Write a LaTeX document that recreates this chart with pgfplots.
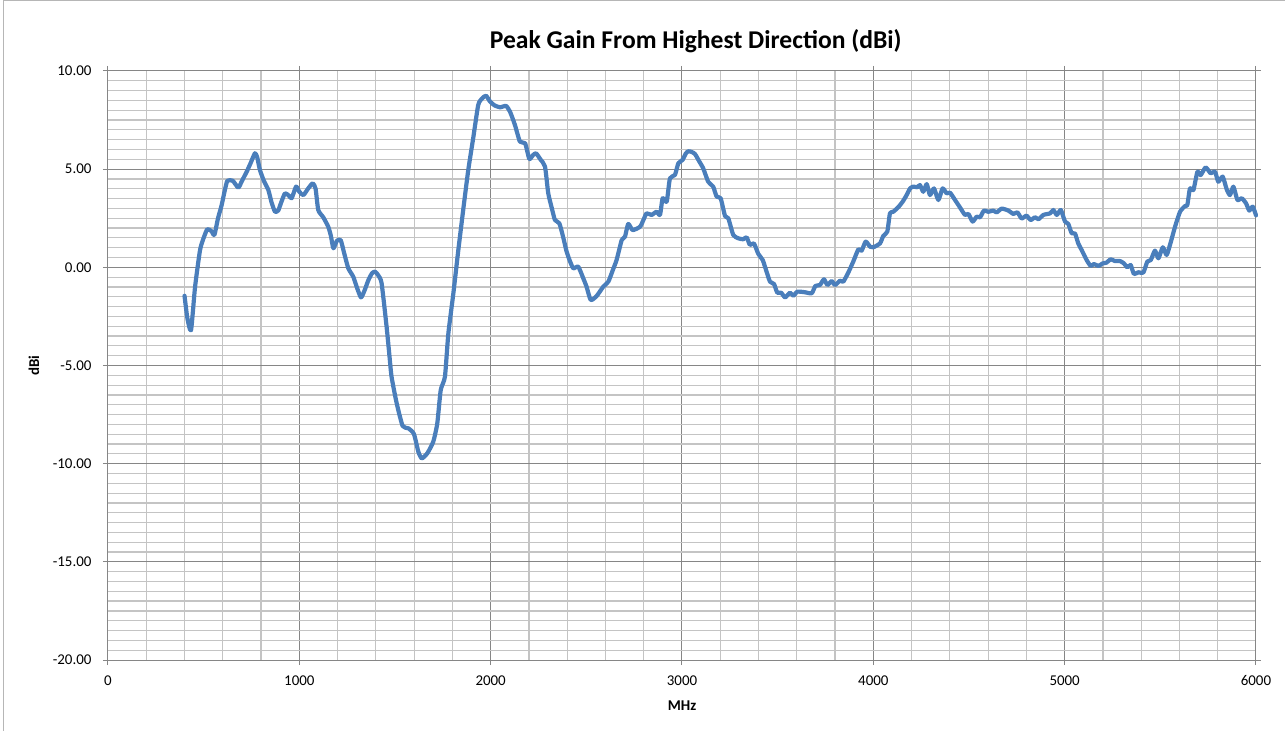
\documentclass[border=0pt]{standalone}
\usepackage{pgfplots}
\pgfplotsset{compat=1.18}
\usepackage{fontspec}
\setmainfont{Carlito}
\definecolor{line}{RGB}{74,126,187}
\definecolor{minorg}{RGB}{196,196,196}
\definecolor{majorg}{RGB}{134,134,134}
\begin{document}
\begin{tikzpicture}
\begin{axis}[
  width=1148bp, height=589bp, scale only axis,
  xmin=0, xmax=6000, ymin=-20, ymax=10,
  xtick={0,1000,...,6000}, minor x tick num=4,
  ytick={-20,-15,...,10}, minor y tick num=9,
  grid=both,
  major grid style={draw=majorg, line width=1bp},
  minor grid style={draw=minorg, line width=1.2bp},
  axis line style={draw=majorg, line width=1bp},
  tick style={draw=majorg, line width=1bp},
  tick align=outside, major tick length=5bp, minor tick length=0pt,
  /pgf/number format/assume math mode=true,
  x tick label style={font=\fontsize{15}{18}\selectfont, yshift=-7bp, /pgf/number format/1000 sep={}},
  y tick label style={font=\fontsize{15}{18}\selectfont, xshift=-8bp, /pgf/number format/.cd, fixed, fixed zerofill, precision=2},
  title={\textbf{Peak Gain From Highest Direction (dBi)}},
  title style={font=\fontsize{25.7}{30}\selectfont, at={(0.512,1)}, anchor=center, yshift=24bp},
  xlabel={\textbf{MHz}},
  xlabel style={font=\fontsize{15}{18}\selectfont, at={(0.5,0)}, anchor=center, yshift=-46bp},
  ylabel={\textbf{dBi}},
  ylabel style={font=\fontsize{15}{18}\selectfont, at={(axis description cs:0,0.5)}, anchor=center, yshift=74bp},
  clip=false,
]
\addplot[line, line width=4.2bp, line join=round, line cap=round, smooth, tension=0.35] coordinates {
(400,-1.45) (415,-2.6) (434,-3.2) (455,-1.0) (481,0.88) (500,1.5) (519,1.94) (540,1.85) (556,1.65)
(575,2.5) (594,3.17) (610,3.9) (624,4.41) (652,4.41) (681,4.06) (700,4.4) (725,4.87) (745,5.3)
(768,5.81) (780,5.6) (794,4.96) (815,4.4) (838,3.94) (855,3.3) (873,2.83) (890,2.9) (905,3.3)
(925,3.77) (945,3.65) (960,3.52) (983,4.11) (1000,3.85) (1021,3.68) (1045,4.0) (1070,4.28)
(1085,4.0) (1099,2.92) (1125,2.55) (1151,2.07) (1165,1.6) (1178,0.97) (1196,1.35) (1216,1.39)
(1235,0.7) (1256,-0.05) (1282,-0.48) (1300,-1.0) (1322,-1.53) (1340,-1.2) (1361,-0.65) (1380,-0.3)
(1396,-0.22) (1412,-0.4) (1430,-0.81) (1456,-3.02) (1470,-4.4) (1482,-5.57) (1509,-6.93)
(1540,-8.08) (1570,-8.2) (1599,-8.49) (1622,-9.39) (1640,-9.73) (1669,-9.47) (1700,-8.88)
(1721,-7.95) (1739,-6.25) (1761,-5.57) (1779,-3.36) (1805,-1.33) (1831,0.88) (1860,3.2)
(1883,4.96) (1910,6.66) (1935,8.27) (1955,8.6) (1976,8.74) (1997,8.44) (2020,8.25) (2049,8.15)
(2080,8.22) (2101,7.93) (2127,7.25) (2153,6.4) (2180,6.32) (2202,5.52) (2220,5.7) (2237,5.81)
(2260,5.5) (2284,5.13) (2301,3.77) (2320,3.0) (2336,2.41) (2359,2.24) (2380,1.5) (2397,0.8)
(2415,0.3) (2432,-0.05) (2458,0.03) (2484,-0.56) (2501,-0.98) (2523,-1.66) (2554,-1.46)
(2589,-0.98) (2615,-0.73) (2640,-0.1) (2658,0.37) (2685,1.39) (2702,1.56) (2719,2.21) (2742,1.9)
(2781,2.07) (2800,2.45) (2815,2.75) (2841,2.67) (2867,2.83) (2885,2.67) (2899,3.52) (2920,3.34)
(2937,4.53) (2963,4.7) (2981,5.3) (3003,5.47) (3020,5.8) (3033,5.91) (3050,5.88) (3068,5.77)
(3090,5.4) (3111,5.04) (3137,4.36) (3163,4.11) (3181,3.6) (3202,3.52) (3225,2.61) (3242,2.5)
(3268,1.65) (3294,1.48) (3320,1.43) (3338,1.53) (3355,1.14) (3376,1.22) (3399,0.68) (3422,0.37)
(3442,-0.22) (3460,-0.73) (3481,-0.85) (3498,-1.29) (3518,-1.29) (3539,-1.53) (3565,-1.29)
(3582,-1.45) (3603,-1.24) (3643,-1.27) (3678,-1.32) (3697,-0.95) (3721,-0.9) (3742,-0.61)
(3760,-0.9) (3782,-0.7) (3800,-0.9) (3826,-0.68) (3843,-0.73) (3869,-0.27) (3895,0.29)
(3922,0.92) (3939,0.85) (3960,1.31) (3983,1.05) (4000,1.02) (4035,1.22) (4052,1.6) (4073,1.82)
(4087,2.75) (4104,2.83) (4130,3.06) (4153,3.34) (4174,3.68) (4192,4.02) (4209,4.11) (4230,4.08)
(4244,4.19) (4261,3.85) (4279,4.24) (4296,3.68) (4317,4.02) (4340,3.43) (4362,4.02) (4383,3.77)
(4401,3.8) (4427,3.43) (4453,3.05) (4479,2.67) (4497,2.72) (4519,2.33) (4540,2.58) (4558,2.55)
(4578,2.89) (4601,2.83) (4627,2.89) (4645,2.8) (4671,2.99) (4706,2.89) (4732,2.72) (4753,2.8)
(4775,2.49) (4801,2.63) (4822,2.41) (4845,2.55) (4863,2.45) (4889,2.67) (4924,2.75) (4941,2.92)
(4959,2.67) (4980,2.92) (5002,2.33) (5019,2.21) (5037,1.73) (5054,1.73) (5071,1.22) (5089,0.88)
(5115,0.37) (5136,0.07) (5153,0.17) (5176,0.07) (5199,0.2) (5219,0.24) (5240,0.41) (5263,0.32)
(5289,0.32) (5310,0.2) (5327,0.0) (5345,0.12) (5362,-0.34) (5385,-0.25) (5411,-0.27) (5432,0.29)
(5450,0.37) (5472,0.85) (5490,0.46) (5513,1.02) (5533,0.63) (5554,1.26) (5577,2.07) (5603,2.83)
(5629,3.12) (5641,3.17) (5655,4.02) (5673,3.94) (5694,4.87) (5711,4.7) (5737,5.09) (5763,4.79)
(5786,4.87) (5803,4.36) (5826,4.62) (5847,3.97) (5864,3.68) (5882,4.11) (5903,3.43) (5925,3.52)
(5948,3.26) (5965,2.89) (5983,3.09) (6000,2.65)
};
\end{axis}
\draw[majorg!60, line width=1bp] (-104bp,-71bp) -- (-104bp,659bp) -- (1177bp,659bp);
\pgfresetboundingbox
\path[use as bounding box] (-108bp,-71bp) rectangle (1177bp,660bp);
\end{tikzpicture}
\end{document}
